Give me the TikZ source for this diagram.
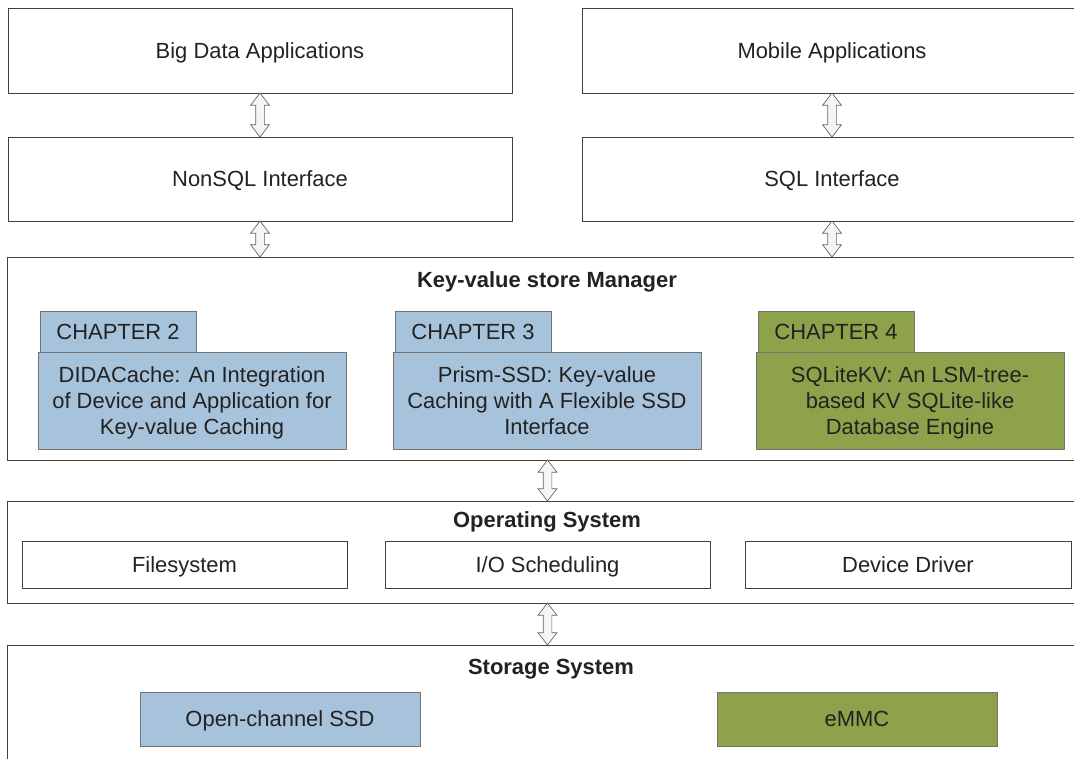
\documentclass[tikz,border=0pt]{standalone}
\usepackage{fontspec}
\setmainfont{Liberation Sans}
\usetikzlibrary{shapes.arrows}

\definecolor{chapblue}{HTML}{A6C3DB}
\definecolor{chapgreen}{HTML}{8EA24B}
\definecolor{inktext}{HTML}{222222}

\tikzset{
  layer/.style={draw=black!75, line width=0.6pt, fill=white, inner sep=0pt,
    text height=11.2pt, text depth=0pt,
    font=\fontsize{15.6pt}{18.5pt}\selectfont, text=inktext},
  title/.style={font=\bfseries\fontsize{15.6pt}{18.5pt}\selectfont, text=inktext, inner sep=0pt,
    text height=11.2pt, text depth=0pt},
  chaptab/.style={draw=black!55, line width=0.6pt, inner sep=0pt,
    minimum width=3.9cm, minimum height=1.025cm, text height=11.2pt, text depth=0pt,
    font=\fontsize{15.6pt}{18.5pt}\selectfont, text=inktext},
  chapbody/.style={draw=black!55, line width=0.6pt, inner sep=0pt, align=center,
    minimum width=7.7cm, minimum height=2.425cm, text depth=0pt,
    font=\fontsize{15.6pt}{18.5pt}\selectfont, text=inktext},
  dblarrow/.style={shape=double arrow, rotate=90, draw=black!60, fill=black!4,
    line width=0.5pt, inner xsep=0pt, inner ysep=0.1cm,
    double arrow head extend=0.125cm, double arrow tip angle=75}
}

\begin{document}
\begin{tikzpicture}[x=0.025cm, y=-0.025cm]

  \useasboundingbox (0,0) rectangle (1074,758);
  \clip (0,0) rectangle (1074,758);

  % applications and interfaces
  \node[layer, minimum width=12.6cm, minimum height=2.125cm] (bigdata) at (260,50.5) {Big Data Applications};
  \node[layer, minimum width=12.5cm, minimum height=2.125cm] (mobile) at (832,50.5) {Mobile Applications};
  \node[layer, minimum width=12.6cm, minimum height=2.1cm] (nosql) at (260,179) {NonSQL Interface};
  \node[layer, minimum width=12.5cm, minimum height=2.1cm] (sql) at (832,179) {SQL Interface};

  % key-value store manager with the three chapters
  \node[layer, minimum width=26.9cm, minimum height=5.075cm] (kvm) at (546,358.5) {};
  \node[title] (kvmtitle) at (547,280) {Key-value store Manager};

  \node[chaptab, fill=chapblue] (tab2) at (118,331.5) {CHAPTER 2};
  \node[chapbody, fill=chapblue] (ch2) at (192,400.5) {DIDACache: An Integration\\of Device and Application for\\Key-value Caching};

  \node[chaptab, fill=chapblue] (tab3) at (473,331.5) {CHAPTER 3};
  \node[chapbody, fill=chapblue] (ch3) at (547,400.5) {Prism-SSD: Key-value\\Caching with A Flexible SSD\\Interface};

  \node[chaptab, fill=chapgreen] (tab4) at (836,331.5) {CHAPTER 4};
  \node[chapbody, fill=chapgreen] (ch4) at (910,400.5) {SQLiteKV: An LSM-tree-\\based KV SQLite-like\\Database Engine};

  % operating system
  \node[layer, minimum width=26.9cm, minimum height=2.55cm] (os) at (546,552) {};
  \node[title] (ostitle) at (547,520) {Operating System};
  \node[layer, minimum width=8.125cm, minimum height=1.175cm] (fs) at (184.5,564.5) {Filesystem};
  \node[layer, minimum width=8.125cm, minimum height=1.175cm] (io) at (547.5,564.5) {I/O Scheduling};
  \node[layer, minimum width=8.15cm, minimum height=1.175cm] (dd) at (908,564.5) {Device Driver};

  % storage system
  \node[layer, minimum width=26.9cm, minimum height=3.125cm] (storage) at (546,707.5) {};
  \node[title] (sttitle) at (551,667) {Storage System};
  \node[layer, draw=black!55, fill=chapblue, minimum width=7cm, minimum height=1.35cm] (ocssd) at (280,719) {Open-channel SSD};
  \node[layer, draw=black!55, fill=chapgreen, minimum width=7cm, minimum height=1.35cm] (emmc) at (857,719) {eMMC};

  % hollow two-way arrows between the layers
  \path (bigdata.south) -- (nosql.north) node[midway, dblarrow, minimum height=1.1cm] (a1) {};
  \path (mobile.south) -- (sql.north) node[midway, dblarrow, minimum height=1.1cm] (a2) {};
  \path (nosql.south) -- (nosql.south |- kvm.north) node[midway, dblarrow, minimum height=0.9cm] (a3) {};
  \path (sql.south) -- (sql.south |- kvm.north) node[midway, dblarrow, minimum height=0.9cm] (a4) {};
  \path (kvm.south -| io.center) -- (io.center |- os.north) node[midway, dblarrow, minimum height=1.025cm] (a5) {};
  \path (os.south -| io.center) -- (io.center |- storage.north) node[midway, dblarrow, minimum height=1.05cm] (a6) {};

\end{tikzpicture}
\end{document}
